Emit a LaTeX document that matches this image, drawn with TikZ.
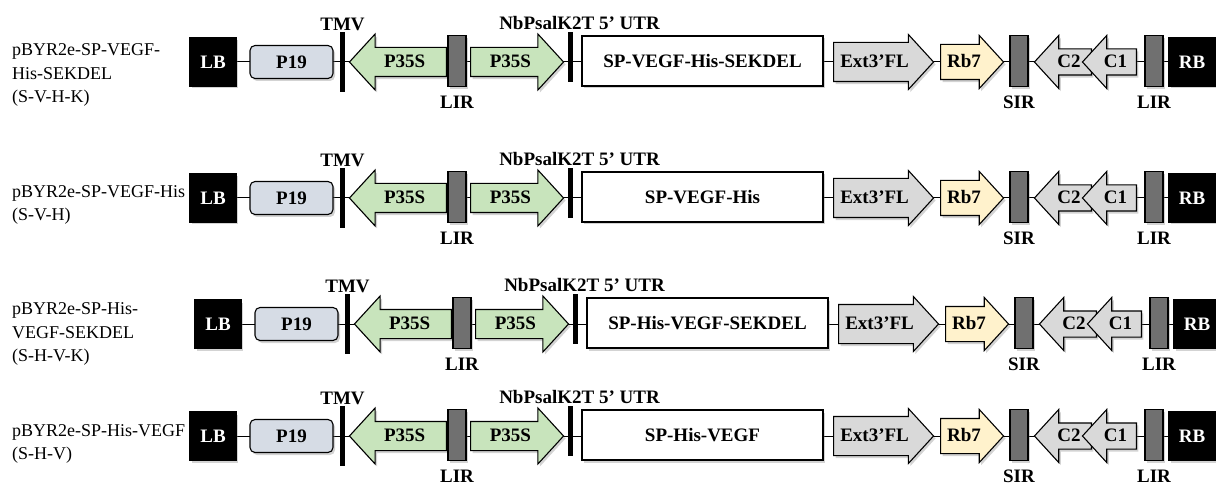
\documentclass[tikz,border=0pt]{standalone}
\usepackage{fontspec}
\setmainfont{Liberation Serif}
\usetikzlibrary{shapes.arrows,shadows,backgrounds,positioning}

\definecolor{p19blue}{RGB}{214,220,229}
\definecolor{promgreen}{RGB}{200,228,188}
\definecolor{irgray}{RGB}{112,112,112}
\definecolor{termgray}{RGB}{217,217,217}
\definecolor{rbyellow}{RGB}{255,242,204}

\tikzset{
  part/.style={draw, line width=1.1pt, inner sep=0pt,
    font=\bfseries\fontsize{19}{21}\selectfont,
    drop shadow={shadow xshift=2pt, shadow yshift=-2.5pt, opacity=0.35}},
  border/.style={part, fill=black, text=white, minimum width=46pt, minimum height=48pt},
  gene/.style={part, fill=white, minimum width=241pt, minimum height=50pt},
  irbox/.style={part, fill=irgray, minimum width=18pt, minimum height=51pt},
  bar/.style={fill=black, inner sep=0pt, minimum width=5pt},
  lab/.style={inner sep=0pt, font=\bfseries\fontsize{19}{21}\selectfont},
  fwd/.style={part, single arrow, anchor=tail, single arrow tip angle=95,
    text height=12.5pt, text depth=1pt, inner xsep=2pt},
  rev/.style={fwd, shape border rotate=180},
  body/.style={inner ysep=#1/2-6.75pt},
  head/.style={single arrow head extend=#1},
}

\begin{document}
\begin{tikzpicture}[x=1pt, y=-1pt]
\useasboundingbox (0,0) rectangle (1216,489);

\foreach \r/\dx/\dy/\ins/\lab/\ly in {
  1/0/0/{SP-VEGF-His-SEKDEL}/{pBYR2e-SP-VEGF-\\His-SEKDEL\\(S-V-H-K)}/13,
  2/0/136/{SP-VEGF-His}/{pBYR2e-SP-VEGF-His\\(S-V-H)}/7,
  3/5/262/{SP-His-VEGF-SEKDEL}/{pBYR2e-SP-His-\\VEGF-SEKDEL\\(S-H-V-K)}/10,
  4/0/374/{SP-His-VEGF}/{pBYR2e-SP-His-VEGF\\(S-H-V)}/8}{
\begin{scope}[shift={(\dx,\dy)}]
  % construct name
  \node[anchor=west, align=left, inner sep=0pt, font=\fontsize{18}{23.5}\selectfont]
    (name\r) at (12-\dx,62+\ly) {\lab};

  % T-DNA, left to right
  \node[border] (LB\r) at (213,62) {LB};
  \node[part, fill=p19blue, rounded corners=5pt, minimum width=83pt,
    minimum height=33pt] (P19\r) at (291.5,62) {P19};
  \node[bar, minimum height=60pt] (TMV\r) at (342.5,62) {};
  \node[lab, above=1pt of TMV\r] (TMVt\r) {TMV};
  \node[rev, body=28pt, head=13.5pt, fill=promgreen, minimum height=97pt]
    (P35Sa\r) at (447,62) {P35S};
  \node[irbox] (LIRa\r) at (457,61) {};
  \node[lab, below=9pt of LIRa\r] (LIRat\r) {LIR};
  \node[fwd, body=28pt, head=13.5pt, fill=promgreen, minimum height=93pt]
    (P35Sb\r) at (470,62) {P35S};
  \node[bar, minimum height=50pt] (UTR\r) at (570.5,57) {};
  \node[lab, above=2pt of UTR\r, xshift=9pt] (UTRt\r) {NbPsalK2T 5’ UTR};
  \node[gene] (ins\r) at (702.5,61) {\ins};
  \node[fwd, body=38pt, head=8pt, fill=termgray, minimum height=100pt]
    (Ext\r) at (833,62) {Ext3’FL};
  \node[fwd, body=34pt, head=9pt, fill=rbyellow, minimum height=63pt]
    (Rb\r) at (940,62) {Rb7};
  \node[irbox] (SIR\r) at (1019,61) {};
  \node[lab, below=9pt of SIR\r] (SIRt\r) {SIR};
  \node[rev, body=25pt, head=13.5pt, fill=termgray, minimum height=57pt]
    (C2\r) at (1092,62) {C2};
  \node[rev, body=25pt, head=13.5pt, fill=termgray, minimum height=54pt]
    (C1\r) at (1137,62) {C1};
  \node[irbox] (LIRb\r) at (1154,61) {};
  \node[lab, below=9pt of LIRb\r] (LIRbt\r) {LIR};
  \node[border] (RB\r) at (1192,62) {RB};

  \begin{scope}[on background layer]
    \draw[line width=1pt] (LB\r) -- (RB\r);
  \end{scope}
\end{scope}
}
\end{tikzpicture}
\end{document}
